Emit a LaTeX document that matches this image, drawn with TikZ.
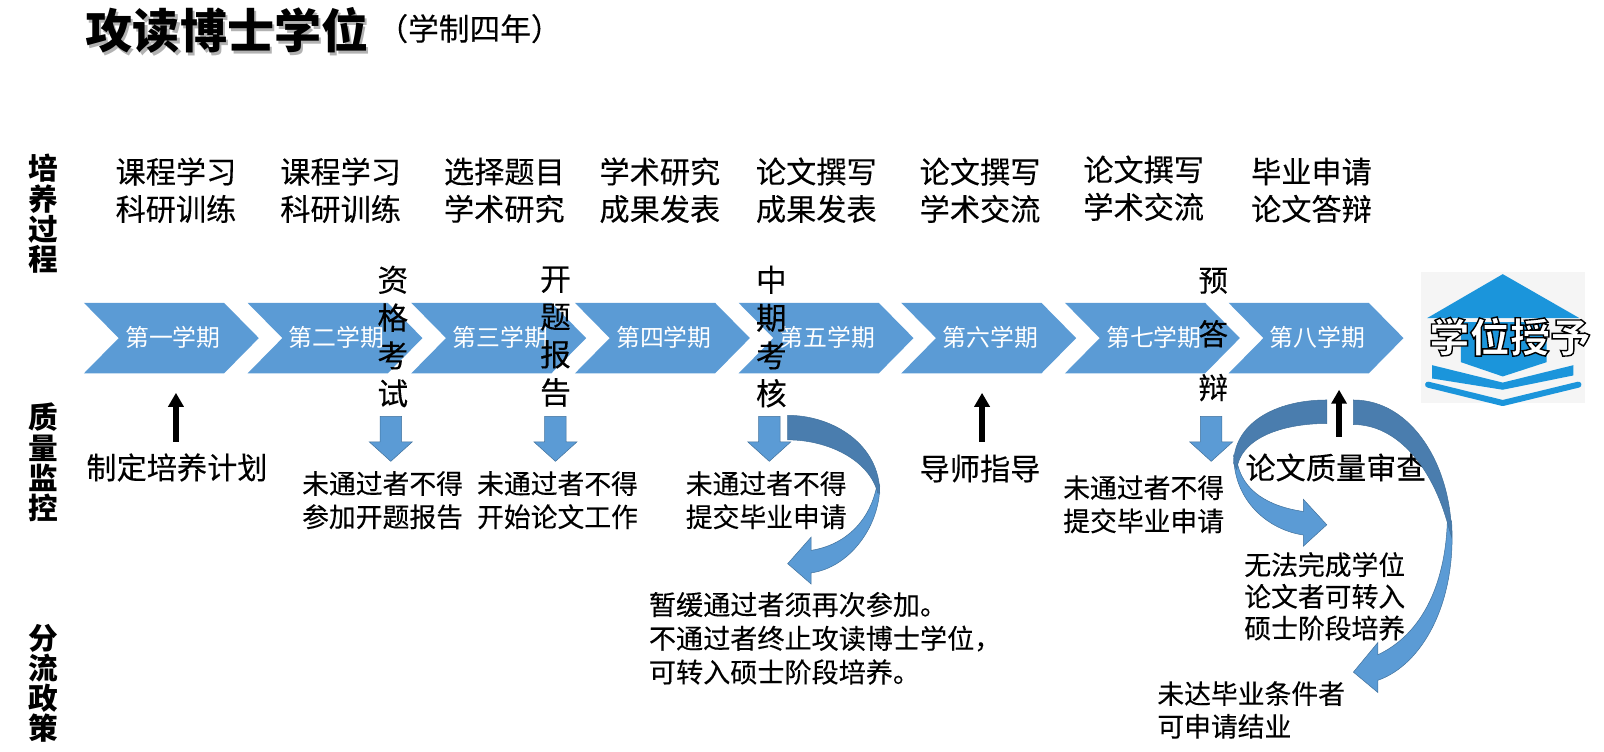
\documentclass[tikz,border=0pt]{standalone}
\usepackage{fontspec}
\usetikzlibrary{arrows.meta}
\setmainfont{Noto Sans CJK SC}
\newfontfamily\heavyfont[FakeBold=0.22]{Noto Sans CJK SC}
\newcommand\pxfont[2]{\fontsize{\fpeval{#1*0.5115}pt}{\fpeval{#2*0.5115}pt}\selectfont}
\definecolor{chev}{HTML}{5B9BD5}
\definecolor{chevdark}{HTML}{4A7DAE}
\definecolor{edgeblue}{HTML}{41719C}
\definecolor{logoblue}{HTML}{1B95DB}
\tikzset{
  chevron/.style={fill=chev,draw=none},
  chevtext/.style={text=white,font=\pxfont{23.3}{28},inner sep=0pt},
  toptext/.style={font=\heavyfont\pxfont{29.5}{36.5},align=center,inner sep=0pt},
  sidetext/.style={font=\bfseries\pxfont{29}{29.5},align=center,inner sep=0pt},
  vertext/.style={font=\heavyfont\pxfont{30}{37},align=center,inner sep=0pt},
  bigtext/.style={font=\heavyfont\pxfont{29.5}{36},align=center,inner sep=0pt},
  smalltext/.style={font=\heavyfont\pxfont{26.2}{32.5},align=center,inner sep=0pt},
  lefttext/.style={font=\heavyfont\pxfont{26.5}{33},align=left,inner sep=0pt},
  blackarrow/.style={line width=2.6pt,-{Triangle[length=7pt,width=7.5pt]}},
  blockfill/.style={fill=chev,draw=edgeblue,line width=0.25pt},
  blockdark/.style={fill=chevdark,draw=edgeblue,line width=0.25pt},
}
\newcommand\downblock[1]{\fill[blockfill,draw] (#1-10.5,407) -- (#1+10.5,407) -- (#1+10.5,432) -- (#1+21,432) -- (#1,451) -- (#1-21,432) -- (#1-10.5,432) -- cycle;}
\begin{document}
\begin{tikzpicture}[x=0.5115pt,y=-0.5115pt]
\useasboundingbox (0,0) rectangle (1568,735);
% title
\node[inner sep=0pt,anchor=center,text=black!30,font=\bfseries\pxfont{46}{46}] (titleshadow) at (224,33) {攻读博士学位};
\node[inner sep=0pt,anchor=center,font=\bfseries\pxfont{46}{46}] (title) at (222,30) {攻读博士学位};
\node[inner sep=0pt,anchor=center,font=\heavyfont\pxfont{30}{30}] (subtitle) at (459,28) {（学制四年）};
% side labels
\node[sidetext] (s1) at (42,209) {培\\养\\过\\程};
\node[sidetext] (s2) at (42,452) {质\\量\\监\\控};
\node[sidetext] (s3) at (42,668) {分\\流\\政\\策};
% chevrons
\foreach \n/\x/\t in {1/82/第一学期,2/242/第二学期,3/402/第三学期,4/562/第四学期,5/722/第五学期,6/881/第六学期,7/1041/第七学期,8/1201/第八学期}{
  \fill[chevron] (\x,296) -- (\x+137,296) -- (\x+171,330.5) -- (\x+137,365) -- (\x,365) -- (\x+34,330.5) -- cycle;
  \node[chevtext] (c\n) at (\x+87,330) {\t};
}
% top text
\node[toptext] (t1) at (172,186) {课程学习\\科研训练};
\node[toptext] (t2) at (333,186) {课程学习\\科研训练};
\node[toptext] (t3) at (493,186) {选择题目\\学术研究};
\node[toptext] (t4) at (645,186) {学术研究\\成果发表};
\node[toptext] (t5) at (798,186) {论文撰写\\成果发表};
\node[toptext] (t6) at (958,186) {论文撰写\\学术交流};
\node[toptext] (t7) at (1118,184) {论文撰写\\学术交流};
\node[toptext] (t8) at (1282,186) {毕业申请\\论文答辩};
% vertical labels
\node[vertext] (v1) at (384,329) {资\\格\\考\\试};
\node[vertext] (v2) at (543,329) {开\\题\\报\\告};
\node[vertext] (v3) at (754,329) {中\\期\\考\\核};
\node[vertext,font=\heavyfont\pxfont{29}{52.5}] (v4) at (1186,327) {预\\答\\辩};
% block arrows
\downblock{382}
\downblock{543}
\downblock{752}
\downblock{1184}
% labels
\node[bigtext] (m1) at (173,457) {制定培养计划};
\node[smalltext] (m2) at (374,489) {未通过者不得\\参加开题报告};
\node[smalltext] (m3) at (545,489) {未通过者不得\\开始论文工作};
\node[smalltext] (m4) at (749,489) {未通过者不得\\提交毕业申请};
\node[bigtext] (m5) at (958,458) {导师指导};
\node[smalltext] (m6) at (1118,493) {未通过者不得\\提交毕业申请};
\node[bigtext] (m7) at (1306,457) {论文质量审查};
\node[smalltext,font=\heavyfont\pxfont{26.2}{31}] (m8) at (1295,583) {无法完成学位\\论文者可转入\\硕士阶段培养};
\node[lefttext,anchor=west] (m9) at (634,624) {暂缓通过者须再次参加。\\不通过者终止攻读博士学位，\\可转入硕士阶段培养。};
\node[lefttext,anchor=west,font=\heavyfont\pxfont{26.2}{32}] (m10) at (1131,694) {未达毕业条件者\\可申请结业};
% black arrows
\coordinate (a1s) at (172,432); \coordinate (a1e) at (172,384);
\coordinate (a2s) at (960,432); \coordinate (a2e) at (960,384);
\coordinate (a3s) at (1309,427); \coordinate (a3e) at (1309,381);
\draw[blackarrow] (a1s) -- (a1e);
\draw[blackarrow] (a2s) -- (a2e);
\draw[blackarrow] (a3s) -- (a3e);
% middle curved arrow
\fill[blockfill,draw] (860,475) .. controls (860,515) and (830,555) .. (793,560) -- (793,571) -- (770,551) -- (793,525) -- (793,538) .. controls (825,533) and (852,510) .. (858,470) -- cycle;
\fill[blockdark,draw] (770,406) .. controls (815,406) and (860,435) .. (860,482) -- (858,482) .. controls (850,450) and (810,430) .. (770,430) -- cycle;
% right curved arrow
\fill[blockfill,draw] (1419,510) .. controls (1424,590) and (1390,650) .. (1347,665) -- (1347,677) -- (1323,657) -- (1347,628) -- (1347,640) .. controls (1390,620) and (1415,570) .. (1415,500) -- cycle;
\fill[blockdark,draw] (1323,391) .. controls (1380,391) and (1419,455) .. (1419,525) -- (1416,515) .. controls (1400,455) and (1365,415) .. (1323,415) -- cycle;
% left curved arrow
\fill[blockfill,draw] (1206,445) .. controls (1206,490) and (1240,518) .. (1274,523) -- (1274,534) -- (1297,513) -- (1274,488) -- (1274,500) .. controls (1240,495) and (1214,480) .. (1209,450) -- cycle;
\fill[blockdark,draw] (1297,391) .. controls (1245,391) and (1206,415) .. (1206,453) -- (1209,459) .. controls (1212,430) and (1250,414) .. (1297,414) -- cycle;
% logo
\fill[black!4] (1389,266) rectangle (1549,394);
\fill[logoblue] (1469,268) -- (1544,311) -- (1395,311) -- cycle;
\fill[logoblue] (1428,315) -- (1512,315) -- (1512,354) -- (1469,368) -- (1428,354) -- cycle;
\fill[logoblue] (1400,357) -- (1469,374) -- (1538,357) -- (1538,367) -- (1469,381) -- (1400,370) -- cycle;
\draw[logoblue,line width=3pt,line cap=round,line join=round] (1396,376) -- (1469,394) -- (1543,376);
\node[inner sep=0pt,font=\bfseries\pxfont{39.5}{39}] (logotext) at (1476,329) {\special{pdf:code 2 Tr 0.7 w 1 1 1 rg 0 0 0 RG}学位授予\special{pdf:code 0 Tr 0 0 0 rg}};
\end{tikzpicture}
\end{document}
